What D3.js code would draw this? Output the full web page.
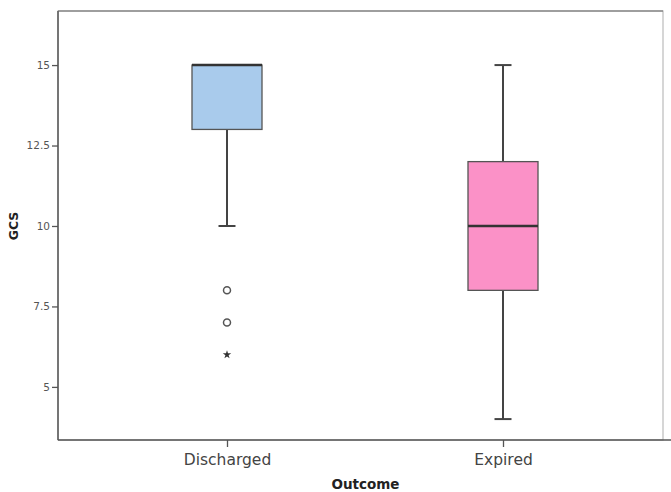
<!DOCTYPE html>
<html><head><meta charset="utf-8">
<script src="https://cdn.jsdelivr.net/npm/d3@7"></script>
<style>body{margin:0;background:#fff}svg{display:block}</style>
</head><body>
<svg id="c" width="671" height="492"></svg>
<script>
const categories = ["Discharged", "Expired"];
const q1 = [13, 8];
const median = [15, 10];
const q3 = [15, 12];
const whiskerLow = [10, 4];
const whiskerHigh = [15, 15];
const outliers = [[8, 7], []];
const extremes = [[6], []];
const fills = ["#a9cbec", "#fb91c7"];
const yTicks = [5, 7.5, 10, 12.5, 15];
const yTickLabels = ["5", "7.5", "10", "12.5", "15"];

const FONT = "DejaVu Sans, Verdana, sans-serif";
const svg = d3.select("#c");
const L = 58, T = 11, R = 663, B = 440;
const y = d3.scaleLinear().domain([3.35, 16.68]).range([B, T]);
const x = d3.scalePoint().domain(categories).range([227, 503]);

// frame
svg.append("rect").attr("x", L).attr("y", T).attr("width", R - L).attr("height", B - T)
  .attr("fill", "none").attr("stroke", "#bbb").attr("stroke-width", 1.2);
svg.append("line").attr("x1", L).attr("x2", L).attr("y1", T).attr("y2", B).attr("stroke", "#555").attr("stroke-width", 1.5);
svg.append("line").attr("x1", L).attr("x2", 671).attr("y1", B).attr("y2", B).attr("stroke", "#555").attr("stroke-width", 1.5);
svg.append("line").attr("x1", L).attr("x2", R).attr("y1", T).attr("y2", T).attr("stroke", "#666").attr("stroke-width", 1.2);

// y axis
const ya = svg.append("g").attr("transform", `translate(${L},0)`)
  .call(d3.axisLeft(y).tickValues(yTicks).tickFormat((d, i) => yTickLabels[i]).tickSize(6).tickPadding(2));
ya.select(".domain").remove();
ya.selectAll(".tick line").attr("stroke", "#555").attr("stroke-width", 1.3);
ya.selectAll("text").attr("fill", "#555").style("font-family", FONT).style("font-size", "10.5px");

// x axis
const xa = svg.append("g").attr("transform", `translate(0,${B})`)
  .call(d3.axisBottom(x).tickSize(7).tickPadding(7));
xa.select(".domain").remove();
xa.selectAll(".tick line").attr("stroke", "#555").attr("stroke-width", 1.3);
xa.selectAll("text").attr("fill", "#444").style("font-family", FONT).style("font-size", "15.5px");

// titles
svg.append("text").attr("x", 365.5).attr("y", 489).attr("text-anchor", "middle")
  .style("font-family", FONT).style("font-size", "13.5px").style("font-weight", "bold").attr("fill", "#222").text("Outcome");
svg.append("text").attr("transform", "translate(18,226) rotate(-90)").attr("text-anchor", "middle")
  .style("font-family", FONT).style("font-size", "12.5px").style("font-weight", "bold").attr("fill", "#222").text("GCS");

const bw = 70, cw = 17;
categories.forEach((c, i) => {
  const cx = x(c);
  const g = svg.append("g");
  g.append("line").attr("x1", cx).attr("x2", cx).attr("y1", y(whiskerLow[i])).attr("y2", y(q1[i])).attr("stroke", "#444").attr("stroke-width", 2);
  g.append("line").attr("x1", cx).attr("x2", cx).attr("y1", y(q3[i])).attr("y2", y(whiskerHigh[i])).attr("stroke", "#444").attr("stroke-width", 2);
  [whiskerLow[i], whiskerHigh[i]].forEach(v => {
    g.append("line").attr("x1", cx - cw / 2).attr("x2", cx + cw / 2).attr("y1", y(v)).attr("y2", y(v)).attr("stroke", "#444").attr("stroke-width", 2);
  });
  g.append("rect").attr("x", cx - bw / 2).attr("y", y(q3[i])).attr("width", bw).attr("height", y(q1[i]) - y(q3[i]))
    .attr("fill", fills[i]).attr("stroke", "#555").attr("stroke-width", 1.3);
  g.append("line").attr("x1", cx - bw / 2).attr("x2", cx + bw / 2).attr("y1", y(median[i])).attr("y2", y(median[i]))
    .attr("stroke", "#333").attr("stroke-width", 2.5);
  outliers[i].forEach(v => {
    g.append("circle").attr("cx", cx).attr("cy", y(v)).attr("r", 3.5).attr("fill", "none").attr("stroke", "#555").attr("stroke-width", 1.5);
  });
  extremes[i].forEach(v => {
    g.append("path").attr("d", d3.symbol(d3.symbolStar, 22)()).attr("transform", `translate(${cx},${y(v)})`).attr("fill", "#333");
  });
});
</script>
</body></html>
